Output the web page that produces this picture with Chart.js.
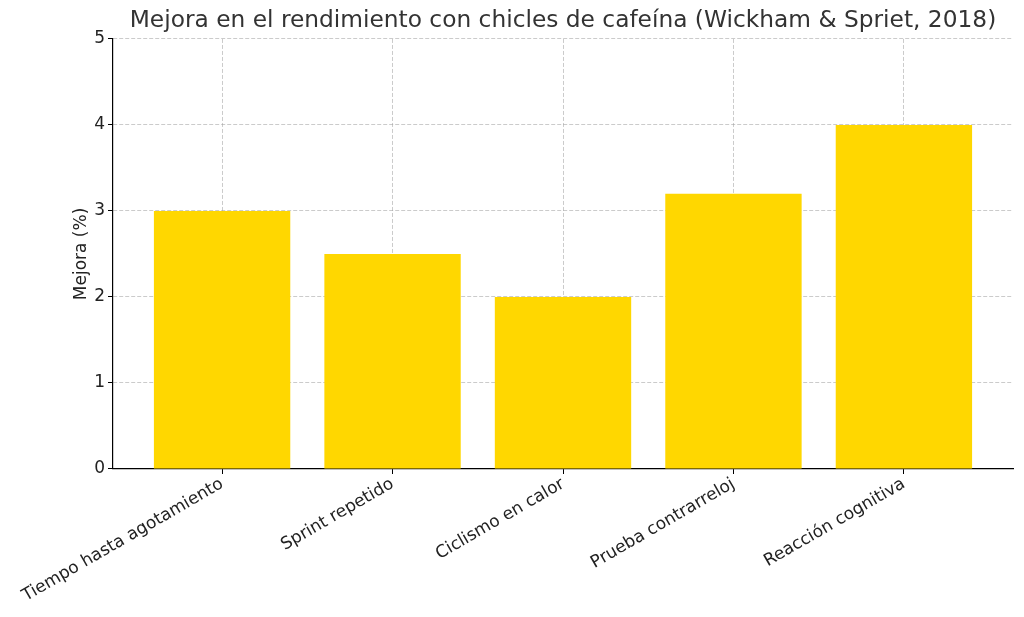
<!DOCTYPE html>
<html>
<head>
<meta charset="utf-8">
<script src="https://cdn.jsdelivr.net/npm/chart.js@4"></script>
<style>
  html, body { margin: 0; padding: 0; background: #fff; }
  #wrap { width: 1024px; height: 617px; }
</style>
</head>
<body>
<div id="wrap"><canvas id="chart"></canvas></div>
<script>
// datos
const categorias = ['Tiempo hasta agotamiento', 'Sprint repetido', 'Ciclismo en calor', 'Prueba contrarreloj', 'Reacción cognitiva'];
const mejora = [3.0, 2.5, 2.0, 3.2, 4.0];
const yTicks = [0, 1, 2, 3, 4, 5];

Chart.defaults.font.family = '"DejaVu Sans", sans-serif';
Chart.defaults.animation = false;

const gridStyle = { color: 'rgba(160,160,160,0.55)', lineWidth: 1, tickColor: '#000', tickLength: 5, tickWidth: 1 };

// el título se centra sobre el área de trazado, como en matplotlib
const centrarTitulo = {
    id: 'centrarTitulo',
    afterLayout(chart) {
        const t = chart.titleBlock;
        if (t) {
            t.left = chart.chartArea.left;
            t.right = chart.chartArea.right;
        }
    }
};

new Chart(document.getElementById('chart'), {
    type: 'bar',
    data: {
        datasets: [{
            data: mejora.map((v, i) => ({ x: i, y: v })),
            backgroundColor: '#FFD700',
            borderWidth: 0,
            categoryPercentage: 1,
            barPercentage: 0.8
        }]
    },
    options: {
        responsive: true,
        maintainAspectRatio: false,
        layout: { padding: { left: 64, right: 11, top: 0, bottom: 0 } },
        plugins: {
            legend: { display: false },
            tooltip: { enabled: false },
            title: {
                display: true,
                text: 'Mejora en el rendimiento con chicles de cafeína (Wickham & Spriet, 2018)',
                color: '#333',
                font: { size: 23.3, weight: 'normal' },
                padding: { top: 7, bottom: 4 }
            }
        },
        scales: {
            x: {
                type: 'linear',
                min: -0.64,
                max: 4.64,
                z: 1,
                offset: false,
                grid: { ...gridStyle, offset: false },
                border: { color: '#000', width: 1.2, dash: [4, 2] },
                afterBuildTicks: s => { s.ticks = categorias.map((_, i) => ({ value: i })); },
                afterFit: s => { s.height = 148; },
                ticks: {
                    color: '#222',
                    font: { size: 17 },
                    padding: 0,
                    autoSkip: false,
                    minRotation: 30,
                    maxRotation: 30,
                    callback: v => categorias[v]
                }
            },
            y: {
                min: 0,
                max: 5,
                z: 1,
                grid: gridStyle,
                border: { color: '#000', width: 1.2, dash: [4, 2] },
                afterBuildTicks: s => { s.ticks = yTicks.map(v => ({ value: v })); },
                afterFit: s => { s.width = 49; },
                title: {
                    display: true,
                    text: 'Mejora (%)',
                    color: '#222',
                    font: { size: 17 },
                    padding: { top: 7, bottom: 0 }
                },
                ticks: { color: '#222', font: { size: 17 }, padding: 3 }
            }
        }
    },
    plugins: [centrarTitulo]
});
</script>
</body>
</html>
